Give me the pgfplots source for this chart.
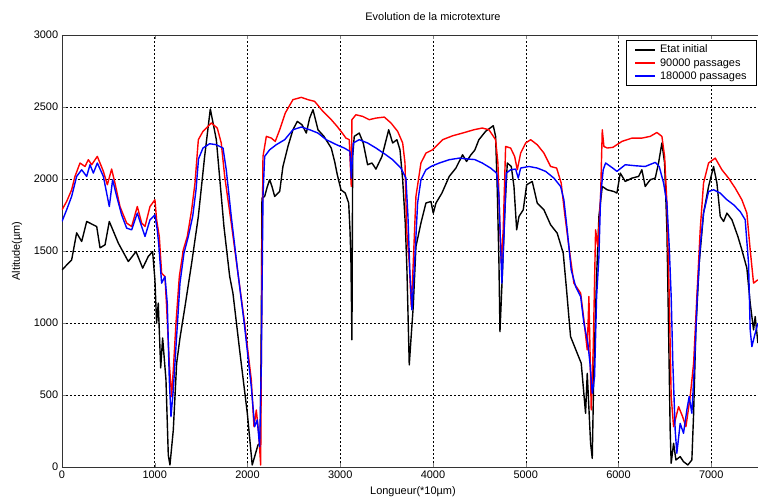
\documentclass[border=0pt]{standalone}
\usepackage{pgfplots}
\pgfplotsset{compat=1.18}
\usepackage{fontspec}
\setmainfont{Liberation Sans}
\begin{document}
\fontsize{11}{13}\selectfont
\begin{tikzpicture}
\begin{axis}[
  at={(0,0)}, anchor=south west,
  width=742bp, height=432bp, scale only axis,
  xmin=0, xmax=8000, ymin=0, ymax=3000,
  xtick={0,1000,...,7000}, ytick={0,500,...,3000},
  /pgf/number format/assume math mode=true,
  /pgf/number format/set thousands separator={},
  tick align=inside, major tick length=4bp,
  axis line style={black!80, line width=0.6bp},
  grid=major,
  major grid style={black, line width=0.5bp, dash pattern=on 2bp off 2bp},
  title={Evolution de la microtexture},
  title style={at={(axis description cs:0.5,1)}, anchor=center, yshift=12bp},
  xlabel={Longueur(*10µm)},
  xlabel style={at={(axis description cs:0.473,0)}, anchor=center, yshift=-25bp},
  ylabel={Altitude(µm)},
  ylabel style={at={(axis description cs:-0.0606,0.5)}, anchor=center},
  legend style={at={(axis description cs:0.760,0.988)}, anchor=north west, draw=black,
    row sep=0bp, column sep=2bp, inner xsep=8bp, inner ysep=2.5bp},
  legend cell align=left,
  legend image code/.code={\draw[#1, line width=2bp] (0bp,0bp) -- (20bp,0bp);},
]
\addplot[draw=black, line width=1.4bp, line join=round] coordinates {
(0,1369)(104,1438)(158,1626)(212,1566)(266,1705)(374,1670)(410,1522)(464,1543)(510,1705)(607,1555)
(715,1427)(798,1496)(870,1381)(930,1462)(977,1496)(1002,1300)(1020,1000)(1038,1138)(1064,688)(1085,896)
(1121,605)(1146,83)(1164,14)(1200,257)(1236,720)(1272,896)(1326,1114)(1398,1416)(1470,1740)(1538,2157)
(1599,2486)(1664,2273)(1746,1670)(1808,1323)(1843,1207)(1915,813)(1998,373)(2051,14)(2113,153)(2138,165)
(2149,1022)(2156,1867)(2185,1879)(2214,1948)(2239,1995)(2264,1948)(2293,1879)(2347,1913)(2382,2087)(2436,2226)
(2490,2342)(2537,2400)(2587,2377)(2634,2319)(2670,2423)(2706,2481)(2760,2342)(2824,2296)(2903,2215)(2940,2120)
(2968,2030)(3008,1925)(3054,1902)(3091,1833)(3105,1647)(3115,1439)(3126,883)(3134,2157)(3151,2296)(3205,2319)
(3248,2250)(3295,2099)(3342,2111)(3385,2069)(3450,2157)(3522,2342)(3565,2250)(3611,2273)(3644,2203)(3673,1995)
(3701,1694)(3719,1369)(3744,709)(3762,883)(3787,1114)(3816,1531)(3870,1694)(3924,1833)(3978,1844)(4003,1763)
(4032,1833)(4096,1902)(4175,2018)(4247,2076)(4319,2168)(4362,2122)(4409,2168)(4450,2200)(4495,2273)(4567,2331)
(4650,2370)(4675,2296)(4693,1925)(4711,1416)(4722,940)(4747,1323)(4772,1740)(4801,2111)(4844,2087)(4873,1948)
(4902,1647)(4927,1740)(4973,1786)(5010,1960)(5070,1983)(5124,1833)(5196,1786)(5268,1682)(5339,1624)(5404,1485)
(5440,1230)(5483,906)(5555,790)(5598,721)(5645,373)(5663,651)(5699,165)(5717,60)(5735,697)(5764,1323)
(5789,1740)(5825,1948)(5878,1925)(5951,1913)(5983,1902)(6019,2041)(6073,1983)(6145,2006)(6217,2018)(6252,2064)
(6288,1948)(6342,1995)(6396,2006)(6432,2111)(6468,2250)(6497,2111)(6522,1647)(6540,952)(6557,257)(6568,26)
(6594,165)(6619,49)(6665,72)(6701,37)(6748,14)(6791,49)(6810,373)(6834,952)(6870,1416)(6917,1763)
(6971,1948)(7025,2087)(7061,1972)(7097,1740)(7133,1705)(7169,1763)(7223,1717)(7287,1601)(7330,1508)(7384,1381)
(7420,1138)(7456,952)(7474,1045)(7503,860)
};
\addlegendentry{Etat initial}
\addplot[draw=red, line width=1.4bp, line join=round] coordinates {
(0,1786)(50,1844)(104,1925)(140,2018)(194,2111)(248,2087)(284,2134)(320,2099)(381,2157)(446,2053)
(489,1960)(535,2069)(571,1972)(625,1809)(697,1694)(751,1670)(812,1809)(859,1694)(895,1670)(949,1809)
(1002,1856)(1020,1717)(1049,1601)(1074,1346)(1110,1323)(1128,1114)(1157,721)(1182,489)(1200,674)(1229,999)
(1265,1323)(1308,1508)(1351,1601)(1398,1786)(1434,1972)(1470,2273)(1520,2331)(1610,2389)(1674,2354)(1717,2250)
(1754,2018)(1825,1694)(1897,1346)(1969,999)(2041,605)(2070,280)(2095,396)(2121,234)(2142,14)(2156,1416)
(2167,2157)(2203,2296)(2257,2284)(2299,2261)(2347,2342)(2407,2458)(2490,2551)(2580,2567)(2652,2551)(2724,2539)
(2814,2469)(2903,2412)(2960,2370)(3008,2331)(3062,2284)(3097,2273)(3119,1948)(3126,2412)(3169,2446)(3241,2435)
(3313,2412)(3385,2423)(3475,2430)(3547,2389)(3619,2331)(3673,2250)(3698,2111)(3716,1647)(3744,1416)(3766,1114)
(3787,1416)(3816,1879)(3870,2111)(3924,2180)(3996,2203)(4032,2226)(4104,2273)(4211,2300)(4319,2319)(4441,2342)
(4531,2354)(4603,2342)(4675,2273)(4700,2111)(4722,1647)(4736,1416)(4757,1647)(4783,2226)(4837,2215)(4880,2157)
(4909,2064)(4945,2180)(4999,2250)(5053,2273)(5124,2238)(5196,2180)(5268,2087)(5333,2076)(5382,1972)(5419,1763)
(5465,1531)(5519,1277)(5592,1207)(5627,1022)(5663,813)(5681,1184)(5706,396)(5728,836)(5753,1647)(5778,1531)
(5807,1879)(5825,2342)(5843,2226)(5878,2215)(5940,2220)(6037,2261)(6145,2284)(6252,2284)(6342,2296)(6414,2323)
(6468,2296)(6497,2157)(6522,1833)(6547,1184)(6568,489)(6594,280)(6648,419)(6691,350)(6727,280)(6773,489)
(6810,721)(6845,1184)(6881,1647)(6917,1972)(6971,2111)(7043,2145)(7115,2064)(7187,2006)(7258,1937)(7330,1856)
(7384,1763)(7420,1508)(7456,1277)(7503,1300)
};
\addlegendentry{90000 passages}
\addplot[draw=blue, line width=1.4bp, line join=round] coordinates {
(0,1705)(50,1786)(104,1879)(158,2018)(212,2064)(266,2018)(302,2099)(338,2041)(381,2111)(446,2018)
(510,1809)(546,1995)(590,1879)(643,1751)(697,1659)(751,1647)(812,1763)(859,1670)(895,1601)(949,1717)
(1002,1751)(1027,1647)(1042,1555)(1074,1277)(1110,1323)(1135,1138)(1157,605)(1175,350)(1200,535)(1229,836)
(1272,1277)(1315,1485)(1362,1601)(1409,1740)(1445,1925)(1472,2140)(1520,2215)(1592,2245)(1664,2238)(1736,2215)
(1771,2064)(1825,1740)(1897,1346)(1969,975)(2041,558)(2077,280)(2105,327)(2131,141)(2149,721)(2167,1879)
(2185,2157)(2239,2203)(2310,2238)(2401,2273)(2490,2342)(2580,2361)(2670,2342)(2760,2319)(2849,2273)(2960,2238)
(3043,2215)(3105,2192)(3119,2006)(3140,2250)(3205,2273)(3295,2250)(3385,2215)(3475,2176)(3565,2134)(3654,2076)
(3708,2006)(3730,1740)(3751,1346)(3773,1091)(3802,1416)(3834,1833)(3870,1995)(3924,2064)(3978,2087)(4068,2111)
(4175,2134)(4283,2145)(4391,2138)(4450,2135)(4531,2111)(4621,2076)(4686,2041)(4711,1879)(4729,1531)(4743,1277)
(4765,1601)(4790,2041)(4837,2064)(4891,2069)(4919,2006)(4945,2076)(5034,2087)(5124,2076)(5214,2053)(5304,2006)
(5376,1948)(5411,1856)(5447,1647)(5490,1369)(5538,1253)(5592,1184)(5627,999)(5670,860)(5692,721)(5717,512)
(5742,628)(5764,1184)(5789,1462)(5807,1879)(5835,2064)(5861,2111)(5914,2087)(5950,2070)(5983,2053)(6073,2099)
(6181,2092)(6288,2087)(6396,2115)(6439,2087)(6486,1972)(6522,1833)(6547,1531)(6568,1184)(6586,721)(6611,257)
(6629,95)(6665,303)(6701,234)(6737,396)(6762,489)(6791,373)(6820,721)(6849,1184)(6881,1531)(6917,1763)
(6971,1913)(7025,1925)(7097,1902)(7169,1856)(7241,1821)(7312,1774)(7366,1717)(7402,1416)(7420,952)(7438,836)
(7474,929)(7503,999)
};
\addlegendentry{180000 passages}
\end{axis}
\pgfresetboundingbox
\useasboundingbox (-62bp,-33bp) rectangle (696bp,467bp);
\end{tikzpicture}
\end{document}
